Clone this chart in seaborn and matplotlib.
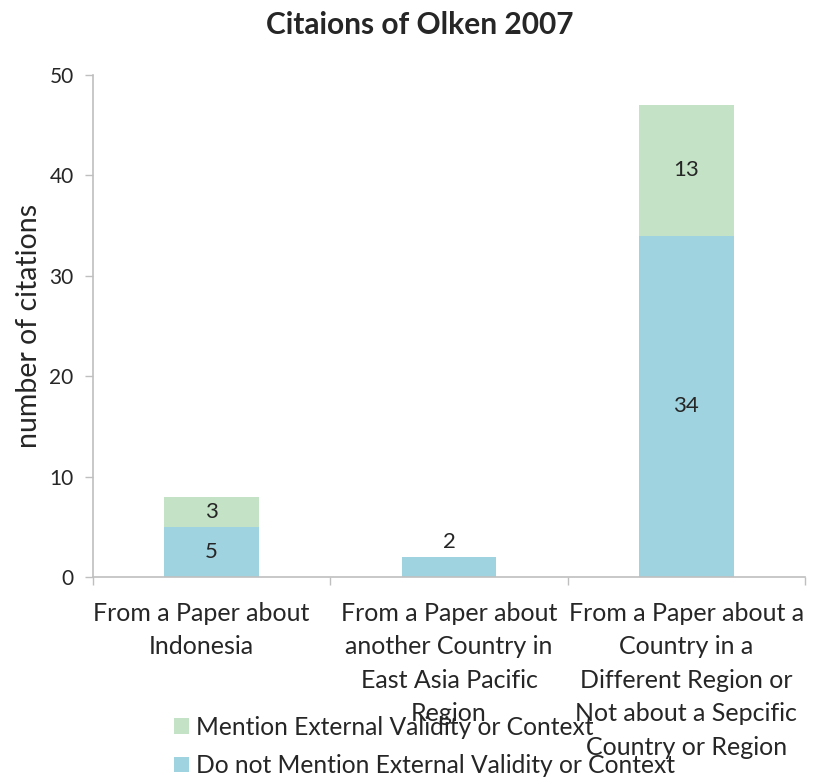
import matplotlib
matplotlib.use("Agg")
import matplotlib.pyplot as plt
import matplotlib.transforms as mtransforms
import seaborn as sns
import pandas as pd
from matplotlib.patches import Patch

categories = [
    "From a Paper about\nIndonesia",
    "From a Paper about\nanother Country in\nEast Asia Pacific\nRegion",
    "From a Paper about a\nCountry in a\nDifferent Region or\nNot about a Sepcific\nCountry or Region",
]
no_mention = [5, 2, 34]
mention = [3, 0, 13]
series_names = ["Mention External Validity or Context",
                "Do not Mention External Validity or Context"]
title = "Citaions of Olken 2007"
ylabel = "number of citations"

green = "#C4E2C6"
blue = "#A0D3E0"
axis_gray = "#BFBFBF"

sns.set_style("white")
plt.rcParams["font.family"] = ["Lato", "DejaVu Sans"]

fig = plt.figure(figsize=(8.19, 7.78), dpi=100)
ax = fig.add_axes([93/819, 1-577/778, (805-93)/819, (577-75)/778])

totals = [a + b for a, b in zip(no_mention, mention)]
df = pd.DataFrame({"cat": categories, "total": totals, "base": no_mention})
sns.barplot(data=df, x="cat", y="total", color=green, width=0.4, saturation=1,
            linewidth=0, edgecolor="none", ax=ax)
sns.barplot(data=df, x="cat", y="base", color=blue, width=0.4, saturation=1,
            linewidth=0, edgecolor="none", ax=ax)

fs = 16
for i, (b, m) in enumerate(zip(no_mention, mention)):
    if m > 0:
        ax.text(i, b / 2, str(b), ha="center", va="center", fontsize=fs)
        ax.text(i, b + m / 2, str(m), ha="center", va="center", fontsize=fs)
    else:
        ax.text(i, b + 0.5, str(b), ha="center", va="bottom", fontsize=fs)

ax.set_ylim(0, 50)
ax.set_xlim(-0.5, 2.5)
ax.set_yticks(range(0, 51, 10))
ax.set_xlabel("")
ax.set_ylabel(ylabel, fontsize=20.5)
ax.yaxis.set_label_coords(-0.072, 0.5)
ax.tick_params(axis="y", labelsize=15, length=6, color=axis_gray, width=1, left=True, pad=8)
ax.set_xticks([0, 1, 2])
ax.set_xticklabels(categories, fontsize=18, linespacing=1.55, va="top")
ax.tick_params(axis="x", which="major", length=0, pad=18)
ax.set_xticks([-0.5, 0.5, 1.5, 2.5], minor=True)
ax.tick_params(axis="x", which="minor", length=6, color=axis_gray, width=1, bottom=True)

# first category label sits slightly left of its bar in the reference
first_lbl = ax.get_xticklabels()[0]
first_lbl.set_transform(first_lbl.get_transform() +
                        mtransforms.ScaledTranslation(-10/100, 0, fig.dpi_scale_trans))

for s in ["top", "right"]:
    ax.spines[s].set_visible(False)
for s in ["left", "bottom"]:
    ax.spines[s].set_color(axis_gray)
    ax.spines[s].set_linewidth(1.2)

fig.text(0.512, 1 - 25/778, title, ha="center", va="center", fontsize=21.5, fontweight="bold")

handles = [Patch(facecolor=green, edgecolor="none"), Patch(facecolor=blue, edgecolor="none")]
fig.legend(handles, series_names, loc="upper left", bbox_to_anchor=(164/819, 1-706/778),
           frameon=False, fontsize=17.7, handlelength=0.6, handleheight=0.6,
           handletextpad=0.3, labelspacing=0.63, borderaxespad=0)

fig.savefig("out.png", dpi=100)
